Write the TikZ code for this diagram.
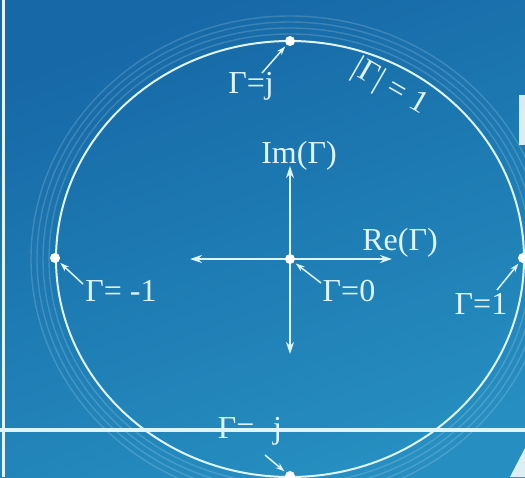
\documentclass[tikz,border=0pt]{standalone}
\usepackage{fontspec}
\setmainfont{Liberation Serif}
\usetikzlibrary{arrows.meta}
\definecolor{bgtop}{RGB}{22,104,166}
\definecolor{bgbot}{RGB}{38,142,192}
\definecolor{chalk}{RGB}{222,244,255}

\begin{document}
\begin{tikzpicture}[x=1pt,y=-1pt,
	every node/.style={font=\fontsize{32}{36}\selectfont, text=chalk},
	lbl/.style={anchor=base, inner sep=0pt},
	dot/.style={circle, fill=white, inner sep=0pt, minimum size=10pt},
	ring/.style={draw=chalk, line width=2pt},
	halo/.style={draw=white, opacity=0.16, line width=1.4pt},
	axis/.style={draw=chalk, line width=1.8pt, {Stealth[length=12pt,width=8pt]}-{Stealth[length=12pt,width=8pt]}},
	ptr/.style={draw=chalk, line width=1.5pt, -{Stealth[length=9pt,width=6pt]}, shorten >=2pt}]
	% background
	\shade[top color=bgtop, bottom color=bgbot, shading angle=20] (0,0) rectangle (525,477);
	\useasboundingbox (0,0) rectangle (525,477);
	\coordinate (c) at (290,259);
	\foreach \d in {7,13,19,25} \draw[halo] (c) ellipse [x radius=234pt+\d pt, y radius=218pt+\d pt];
	\draw[ring] (c) ellipse [x radius=234pt, y radius=218pt];
	% axes
	\coordinate (axl) at (190,259); \coordinate (axr) at (392,259);
	\coordinate (axt) at (290,166); \coordinate (axb) at (290,354);
	\draw[axis] (axl) -- (axr);
	\draw[axis] (axt) -- (axb);
	% points on the chart
	\node[dot] (O) at (290,259) {};
	\node[dot] (T) at (290,41) {};
	\node[dot] (L) at (55,258) {};
	\node[dot] (R) at (523,258) {};
	\node[dot] (B) at (290,476) {};
	% pointers
	\coordinate (tT) at (262,73); \coordinate (tO) at (321,283);
	\coordinate (tL) at (83,284); \coordinate (tR) at (497,290);
	\coordinate (tB) at (265,455);
	\draw[ptr] (tT) -- (T);
	\draw[ptr] (tO) -- (O);
	\draw[ptr] (tL) -- (L);
	\draw[ptr] (tR) -- (R);
	\draw[ptr] (tB) -- (B);
	% labels
	\node[lbl] (lT) at (251,93) {Γ=j};
	\node[lbl, rotate=-30] (lmag) at (386,94) {|Γ| = 1};
	\node[lbl] (lim) at (299,163) {Im(Γ)};
	\node[lbl] (lre) at (400,250) {Re(Γ)};
	\node[lbl] (lO) at (349,301) {Γ=0};
	\node[lbl] (lL) at (121,301) {Γ= -1};
	\node[lbl] (lR) at (481,314) {Γ=1};
	\node[lbl] (lB) at (250,438) {Γ= -j};
	% frame lines
	\draw[chalk, line width=3.5pt] (0,430) -- (525,430);
	\draw[chalk, line width=3pt] (3,0) -- (3,477);
	\fill[white, opacity=0.85] (519,95) rectangle (525,145);
	\fill[white, opacity=0.85] (510,477) -- (525,448) -- (525,477) -- cycle;
\end{tikzpicture}
\end{document}
